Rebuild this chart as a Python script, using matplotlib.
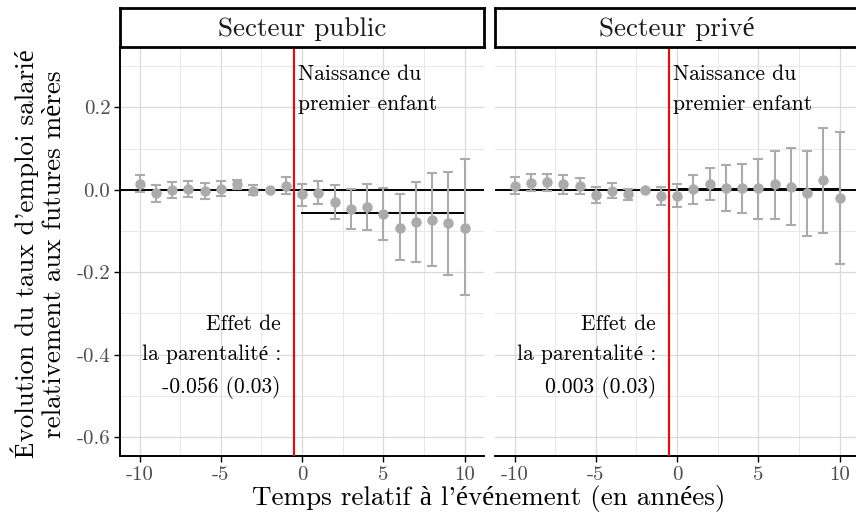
import numpy as np
import matplotlib
matplotlib.use("Agg")
from matplotlib import pyplot as plt
from matplotlib.ticker import FixedLocator, MultipleLocator

plt.rcParams['font.family'] = ['cmr10', 'Liberation Serif', 'DejaVu Serif']
plt.rcParams['axes.unicode_minus'] = False

years = list(range(-10, 11))
panels = ["Secteur public", "Secteur privé"]

public_coef = [0.015, -0.009, -0.001, 0.002, -0.003, 0.003, 0.013, -0.002, 0.0, 0.010,
               -0.011, -0.007, -0.029, -0.047, -0.042, -0.059, -0.092, -0.078, -0.073, -0.080, -0.092]
public_hi = [0.037, 0.011, 0.018, 0.022, 0.017, 0.021, 0.024, 0.011, 0.0, 0.030,
             0.015, 0.022, 0.011, 0.001, 0.013, 0.005, -0.011, 0.018, 0.040, 0.044, 0.074]
public_lo = [-0.005, -0.029, -0.020, -0.017, -0.023, -0.015, 0.002, -0.012, 0.0, -0.011,
             -0.039, -0.035, -0.070, -0.096, -0.098, -0.123, -0.171, -0.175, -0.186, -0.206, -0.256]

private_coef = [0.010, 0.017, 0.020, 0.013, 0.010, -0.012, -0.002, -0.011, 0.0, -0.016,
                -0.014, 0.002, 0.015, 0.004, 0.005, 0.004, 0.013, 0.007, -0.009, 0.023, -0.021]
private_hi = [0.031, 0.039, 0.039, 0.036, 0.029, 0.007, 0.016, 0.002, 0.0, 0.007,
              0.015, 0.036, 0.054, 0.060, 0.062, 0.075, 0.095, 0.102, 0.095, 0.150, 0.141]
private_lo = [-0.011, -0.004, -0.002, -0.010, -0.010, -0.032, -0.020, -0.024, 0.0, -0.038,
              -0.042, -0.034, -0.026, -0.052, -0.056, -0.070, -0.070, -0.086, -0.111, -0.104, -0.181]

effects = [-0.056, 0.003]
effect_se = [0.03, 0.03]
event_x = -0.5

y_ticks = [-0.6, -0.4, -0.2, 0.0, 0.2]
y_ticklabels = ["-0.6", "-0.4", "-0.2", "0.0", "0.2"]
x_ticks = [-10, -5, 0, 5, 10]
x_ticklabels = ["-10", "-5", "0", "5", "10"]

series = [(public_coef, public_hi, public_lo), (private_coef, private_hi, private_lo)]

W, H = 856, 517
fig = plt.figure(figsize=(W / 100, H / 100), dpi=100)

def box(x0, y0, x1, y1):
    # pixel box (top-left origin) -> figure fraction rect
    return [x0 / W, 1 - y1 / H, (x1 - x0) / W, (y1 - y0) / H]

panel_left = [120, 495]
panel_w = 364
grey_pt = "#ABABAB"

for i, (name, (coef, hi, lo)) in enumerate(zip(panels, series)):
    x0 = panel_left[i]
    ax = fig.add_axes(box(x0, 48, x0 + panel_w, 456))
    ax.set_xlim(-11.2, 11.2)
    ax.set_ylim(-0.646, 0.344)

    coef = np.array(coef)
    yerr = np.vstack([coef - np.array(lo), np.array(hi) - coef])
    ax.errorbar(years, coef, yerr=yerr, fmt="o", color=grey_pt, ecolor=grey_pt,
                markersize=6.5, elinewidth=1.5, capsize=3.5, capthick=1.5, zorder=3)

    ax.axhline(0, color="black", lw=1.4, zorder=2)
    ax.plot([0, 10], [effects[i], effects[i]], color="black", lw=1.4, zorder=2)
    ax.axvline(event_x, color="red", lw=1.5, zorder=4)

    ax.text(event_x + 0.25, 0.305, "Naissance du\npremier enfant", ha="left", va="top",
            fontsize=15.5, linespacing=1.72, color="black")
    ax.text(-1.3, -0.405, "Effet de\nla parentalité :\n%.3f (%.2f)" % (effects[i], effect_se[i]),
            ha="right", va="center", fontsize=15.5, linespacing=1.7, color="black")

    ax.xaxis.set_major_locator(FixedLocator(x_ticks))
    ax.set_xticklabels(x_ticklabels)
    ax.xaxis.set_minor_locator(MultipleLocator(2.5))
    ax.yaxis.set_major_locator(FixedLocator(y_ticks))
    ax.yaxis.set_minor_locator(MultipleLocator(0.1))
    ax.grid(which="major", color="#D9D9D9", lw=0.9, zorder=0)
    ax.grid(which="minor", color="#E8E8E8", lw=0.7, zorder=0)
    ax.set_axisbelow(True)

    for s in ["top", "right"]:
        ax.spines[s].set_visible(False)
    ax.spines["bottom"].set_color("black")
    ax.spines["bottom"].set_linewidth(1.4)
    ax.tick_params(which="minor", length=0)
    ax.tick_params(axis="x", which="major", length=4, width=1, color="black",
                   labelsize=15, labelcolor="#4D4D4D", pad=3)
    if i == 0:
        ax.spines["left"].set_color("black")
        ax.spines["left"].set_linewidth(1.4)
        ax.set_yticklabels(y_ticklabels)
        ax.tick_params(axis="y", which="major", length=4, width=1, color="black",
                       labelsize=15, labelcolor="#4D4D4D", pad=3)
    else:
        ax.spines["left"].set_visible(False)
        ax.tick_params(axis="y", which="major", length=0, labelleft=False)

    # facet strip
    strip = fig.add_axes(box(x0, 8, x0 + panel_w, 47))
    strip.set_xticks([])
    strip.set_yticks([])
    for s in strip.spines.values():
        s.set_linewidth(2)
        s.set_color("black")
    strip.text(0.5, 0.46, name, ha="center", va="center", fontsize=19.5,
               color="#1A1A1A", transform=strip.transAxes)

fig.text(489 / W, 1 - 499 / H, "Temps relatif à l'événement (en années)",
         ha="center", va="center", fontsize=19.5)
fig.text(38 / W, 1 - 254 / H, "Évolution du taux d'emploi salarié\nrelativement aux futures mères",
         ha="center", va="center", rotation=90, fontsize=19.5, linespacing=1.2)

fig.savefig("out.png", dpi=100)
